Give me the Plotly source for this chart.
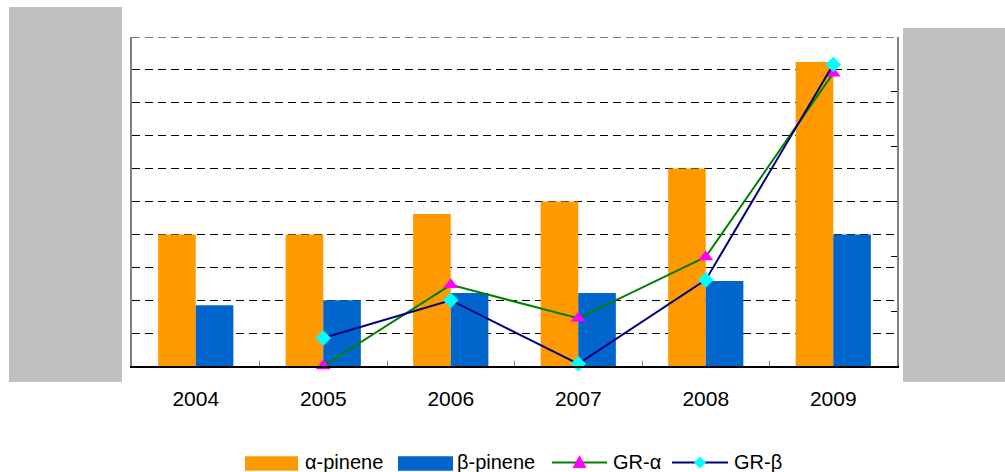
import plotly.graph_objects as go

years = ["2004", "2005", "2006", "2007", "2008", "2009"]
alpha_pinene = [4.0, 4.0, 4.62, 5.0, 6.0, 9.24]
beta_pinene = [1.85, 2.0, 2.22, 2.22, 2.58, 4.0]
gr_years = ["2005", "2006", "2007", "2008", "2009"]
gr_alpha = [0.0, 0.148, 0.087, 0.199, 0.534]
gr_beta = [0.051, 0.120, 0.004, 0.157, 0.550]
y_max = 10

ORANGE = "#FF9900"
BLUE = "#0066CC"
GREEN = "#008000"
NAVY = "#000080"
MAGENTA = "#FF00FF"
CYAN = "#00FFFF"
FONT = "Liberation Sans, Arial, sans-serif"

W, H = 1005, 472
L, R, T, B = 132, 108, 37, 106
PW, PH = W - L - R, H - T - B


def px(x):
    return (x - L) / PW


def py(y):
    return (H - B - y) / PH


fig = go.Figure()
fig.add_trace(go.Bar(x=years, y=alpha_pinene, name="α-pinene",
                     marker=dict(color=ORANGE, line=dict(width=0))))
fig.add_trace(go.Bar(x=years, y=beta_pinene, name="β-pinene",
                     marker=dict(color=BLUE, line=dict(width=0))))
fig.add_trace(go.Scatter(x=gr_years, y=gr_alpha, name="GR-α", yaxis="y2",
                         mode="lines+markers", cliponaxis=False,
                         line=dict(color=GREEN, width=2),
                         marker=dict(symbol="triangle-up", size=13, color=MAGENTA)))
fig.add_trace(go.Scatter(x=gr_years, y=gr_beta, name="GR-β", yaxis="y2",
                         mode="lines+markers", cliponaxis=False,
                         line=dict(color=NAVY, width=2),
                         marker=dict(symbol="diamond", size=12, color=CYAN)))

shapes = []
annotations = []

# top gridline (plotly omits the one on the plot edge)
shapes.append(dict(type="line", xref="paper", yref="y", layer="below",
                   x0=0, x1=1, y0=y_max, y1=y_max,
                   line=dict(color="black", width=1, dash="8px,5px")))

# grey redaction boxes
shapes.append(dict(type="rect", xref="paper", yref="paper", layer="above",
                   x0=px(9), x1=px(122), y0=py(382), y1=py(7),
                   fillcolor="#C0C0C0", line=dict(width=0)))
shapes.append(dict(type="rect", xref="paper", yref="paper", layer="above",
                   x0=px(903), x1=px(1005), y0=py(382), y1=py(28),
                   fillcolor="#C0C0C0", line=dict(width=0)))

# custom legend
ly = 462.5
legend_items = [
    ("rect", ORANGE, None, 245, 298, "α-pinene", 303),
    ("rect", BLUE, None, 398, 453, "β-pinene", 455),
    ("line", GREEN, "tri", 552, 607, "GR-α", 611),
    ("line", NAVY, "dia", 672, 728, "GR-β", 732),
]
for kind, col, mk, x0, x1, label, tx in legend_items:
    if kind == "rect":
        shapes.append(dict(type="rect", xref="paper", yref="paper",
                           x0=px(x0), x1=px(x1), y0=py(470.7), y1=py(456.3),
                           fillcolor=col, line=dict(width=0)))
    else:
        shapes.append(dict(type="line", xref="paper", yref="paper",
                           x0=px(x0), x1=px(x1), y0=py(ly), y1=py(ly),
                           line=dict(color=col, width=2)))
        cx = (x0 + x1) / 2
        if mk == "tri":
            pts = [(cx, ly - 7.5), (cx + 7, ly + 5.5), (cx - 7, ly + 5.5)]
            fc = MAGENTA
        else:
            pts = [(cx, ly - 6), (cx + 6, ly), (cx, ly + 6), (cx - 6, ly)]
            fc = CYAN
        path = "M " + " L ".join(f"{px(a)},{py(b)}" for a, b in pts) + " Z"
        shapes.append(dict(type="path", xref="paper", yref="paper", path=path,
                           fillcolor=fc, line=dict(width=0)))
    annotations.append(dict(text=label, xref="paper", yref="paper",
                            x=px(tx), y=py(461.5), xanchor="left", yanchor="middle",
                            showarrow=False, font=dict(family=FONT, size=20, color="black")))

fig.update_layout(
    width=W, height=H,
    margin=dict(l=L, r=R, t=T, b=B, pad=0),
    plot_bgcolor="white", paper_bgcolor="white",
    barmode="group", bargap=0.41, bargroupgap=0,
    showlegend=False,
    font=dict(family=FONT, size=21, color="black"),
    xaxis=dict(type="category", showline=True, linecolor="black", linewidth=1.5,
               ticks="inside", tickson="boundaries", ticklen=5, tickcolor="#808080",
               showgrid=False, tickfont=dict(size=21), ticklabelstandoff=13),
    yaxis=dict(range=[0, y_max], tick0=0, dtick=1, showgrid=True, gridcolor="black",
               gridwidth=1, griddash="8px,5px", showline=True, linecolor="#808080",
               linewidth=1.5, ticks="", zeroline=False, tickfont=dict(size=21),
               ticklabelstandoff=18),
    yaxis2=dict(range=[0, 0.6], dtick=0.1, tickformat=".0%", overlaying="y", side="right",
                showgrid=False, showline=True, linecolor="#808080", linewidth=1.5,
                ticks="inside", ticklen=6, tickcolor="black", zeroline=False,
                tickfont=dict(size=21), ticklabelstandoff=18),
    shapes=shapes,
    annotations=annotations,
)

fig.write_html("out.html", config={"displayModeBar": False},
               post_script="document.body.style.margin='0';document.body.style.padding='0';")
